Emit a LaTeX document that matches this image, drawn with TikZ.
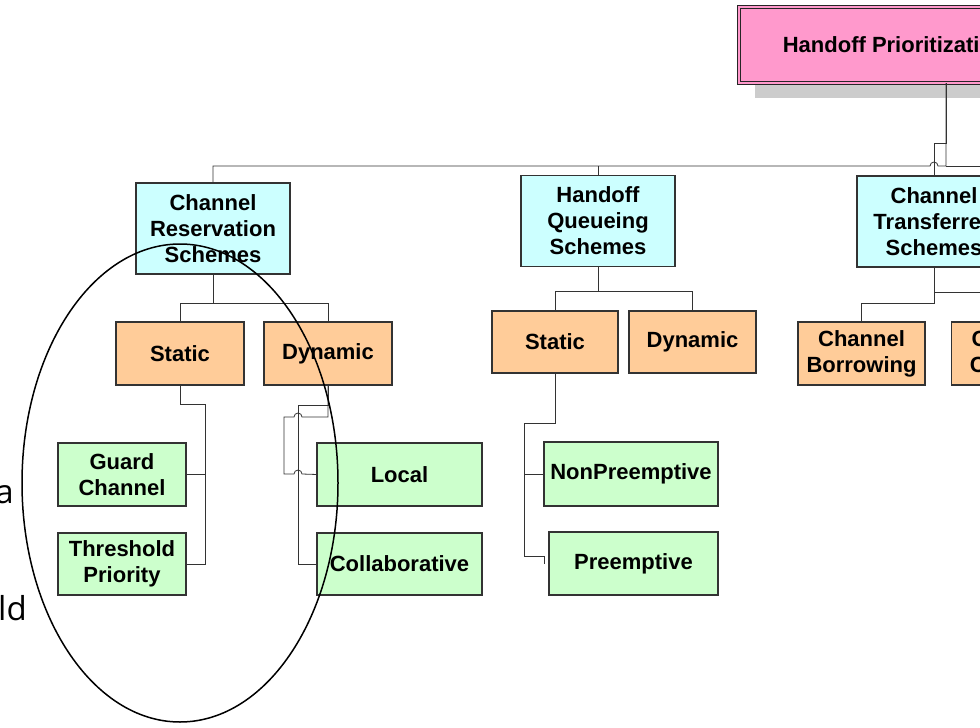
\documentclass[tikz,border=0pt]{standalone}
\usepackage{fontspec}
\setmainfont{Liberation Sans}
\newfontfamily\sidefont{Open Sans}
\usepackage{tikz}
\usetikzlibrary{positioning}
\usetikzlibrary{shadows}
\definecolor{HPink}{HTML}{FF99CC}
\definecolor{HCyan}{HTML}{CCFFFF}
\definecolor{HOrange}{HTML}{FFCC99}
\definecolor{HGreen}{HTML}{CCFFCC}
\tikzset{
every picture/.style={line join=miter},
boxnode/.style={rectangle, draw=black!80, line width=1.2pt, align=center, inner sep=0pt, outer sep=0pt, font=\bfseries\fontsize{22}{26}\selectfont},
pinknode/.style={boxnode, fill=HPink, draw=black!85, line width=0.9pt, double=HPink, double distance=2pt, drop shadow={shadow xshift=16pt, shadow yshift=-15pt, fill=black!20, opacity=1}},
cyannode/.style={boxnode, fill=HCyan, minimum width=154pt, minimum height=91pt},
orangenode/.style={boxnode, fill=HOrange, minimum width=128pt, minimum height=63pt},
greennode/.style={boxnode, fill=HGreen, minimum height=63pt},
conn/.style={draw=black!80, line width=0.8pt},
sidetext/.style={inner sep=0pt, anchor=base east, font=\sidefont\fontsize{33}{40}\selectfont}
}

\begin{document}
\begin{tikzpicture}[x=1pt, y=-1pt]
\useasboundingbox (0,0) rectangle (980,728);
\clip (0,0) rectangle (980,728);
%Nodes
\node [pinknode, minimum width=414pt, minimum height=76pt] (hps) at (946,45) {Handoff Prioritization Schemes};
\node [cyannode] (crs) at (213,228.5) {Channel\\Reservation\\Schemes};
\node [cyannode] (hqs) at (598,221) {Handoff\\Queueing\\Schemes};
\node [cyannode] (cts) at (934,221.5) {Channel\\Transferred\\Schemes};
\node [orangenode] (crsstatic) at (180,353.5) {Static};
\node [orangenode] (crsdynamic) at (328,353.5) {Dynamic};
\node [orangenode, minimum width=126pt, minimum height=62pt] (hqsstatic) at (555,342) {Static};
\node [orangenode, minimum width=127pt, minimum height=62pt] (hqsdynamic) at (692.5,342) {Dynamic};
\node [orangenode, minimum width=127pt] (borrow) at (861.5,353.5) {Channel\\Borrowing};
\node [orangenode, minimum width=127pt] (carry) at (1015,353.5) {Channel\\Carrying};
\node [greennode, minimum width=128pt] (guard) at (122,474.5) {Guard\\Channel};
\node [greennode, minimum width=128pt, minimum height=62pt] (thresh) [below=27pt of guard] {Threshold\\Priority};
\node [greennode, minimum width=165pt] (local) at (399.5,474.5) {Local};
\node [greennode, minimum width=165pt, minimum height=62pt] (collab) [below=27pt of local] {Collaborative};
\node [greennode, minimum width=174pt, minimum height=64pt] (nonpre) at (631,474) {NonPreemptive};
\node [greennode, minimum width=169pt] (pre) at (633.5,563.5) {Preemptive};
\node [sidetext] (sidea) at (14,503) {a};
\node [sidetext] (sideld) at (27,620) {ld};
\coordinate (busend) at (1000,166);

%Lines
\draw [conn] (hps.south) -- (hps.south |- busend) -- (938,166) arc[start angle=0, end angle=180, radius=4pt] -| (crs.north);
\draw [conn] (hps.south |- busend) -- (busend);
\draw [conn] (hqs.north) -- (hqs.north |- busend);
\draw [conn] (hps.south) -- ++(0,60) -| (cts.north);
\draw [conn] (crs.south) -- ++(0,29) -| (crsstatic.north);
\draw [conn] (crs.south) -- ++(0,29) -| (crsdynamic.north);
\draw [conn] (hqs.south) -- ++(0,25) -| (hqsstatic.north);
\draw [conn] (hqs.south) -- ++(0,25) -| (hqsdynamic.north);
\draw [conn] (cts.south) -- ++(0,36) -| (borrow.north);
\draw [conn] (cts.south) -- ++(0,25) -| (carry.north);
\draw [conn] (crsstatic.south) -- ++(0,19) -- ++(25,0) |- (guard.east);
\draw [conn] (crsstatic.south) -- ++(0,19) -- ++(25,0) |- (thresh.east);
\draw [conn] (crsdynamic.south) -- ++(0,20) -- ++(-30,0) |- (collab.west);
\draw [conn] (crsdynamic.south) -- ++(0,32) -- ++(-26,0) arc[start angle=0, end angle=180, radius=4pt] -- ++(-10,0) -- ++(0,57) -- ++(10,0) arc[start angle=180, end angle=0, radius=4pt] -- (local.west);
\draw [conn] (hqsstatic.south) -- ++(0,50) -- ++(-31,0) |- (nonpre.west);
\draw [conn] (hqsstatic.south) -- ++(0,50) -- ++(-31,0) |- ([xshift=-5pt, yshift=7pt]pre.west) -- ([xshift=-5pt]pre.west);
\draw [black, line width=1.5pt] (180,483) ellipse [x radius=158, y radius=239];

\end{tikzpicture}
\end{document}
